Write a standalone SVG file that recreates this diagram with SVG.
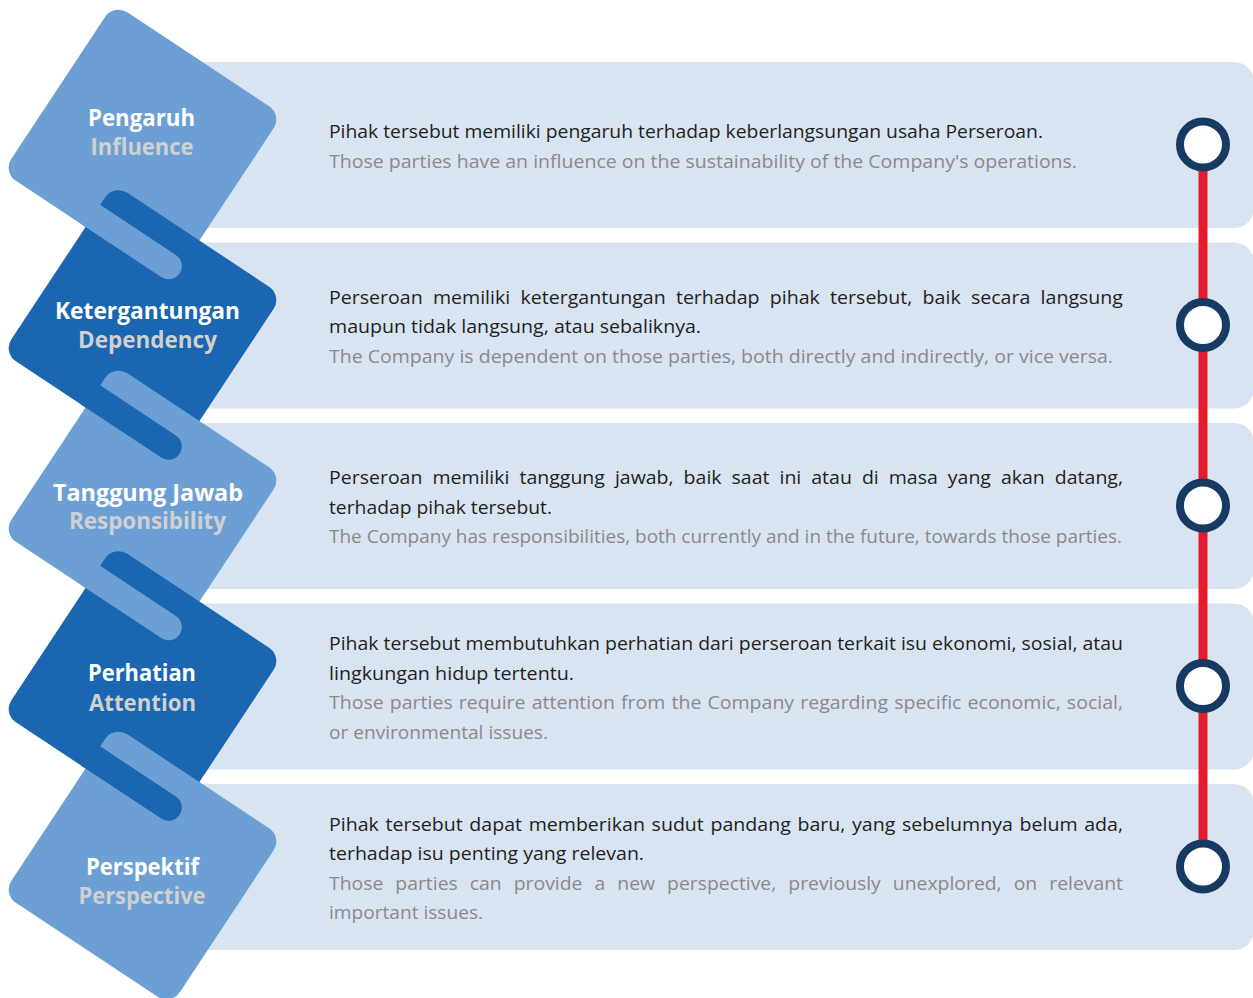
<svg xmlns="http://www.w3.org/2000/svg" width="1253" height="998" viewBox="0 0 1253 998">
<style>
.panel{fill:#d9e4f3}
.lt{fill:#6ca0d4}
.dk{fill:#1a66b0}
.t1{font-family:"Open Sans","Liberation Sans",sans-serif;font-size:19px;fill:#231f20}
.t2{font-family:"Open Sans","Liberation Sans",sans-serif;font-size:19px;fill:#8a8a8a}
.h1{font-family:"Open Sans","Liberation Sans",sans-serif;font-size:22.5px;font-weight:700;fill:#ffffff;text-anchor:middle}
.h2{font-family:"Open Sans","Liberation Sans",sans-serif;font-size:22.5px;font-weight:700;fill:#d0d0d0;text-anchor:middle}
.ring{fill:#ffffff;stroke:#173a63;stroke-width:8}
</style>
<rect width="1253" height="998" fill="#ffffff"/>
<g id="panels">
<g id="panel1"><rect class="panel" x="150" y="62" width="1104" height="166" rx="20"/>
<text class="t1" x="329" y="138" textLength="714" lengthAdjust="spacingAndGlyphs">Pihak tersebut memiliki pengaruh terhadap keberlangsungan usaha Perseroan.</text>
<text class="t2" x="329" y="167.5" textLength="748" lengthAdjust="spacingAndGlyphs">Those parties have an influence on the sustainability of the Company's operations.</text></g>
<g id="panel2"><rect class="panel" x="150" y="242.5" width="1104" height="166" rx="20"/>
<text class="t1" x="329" y="303.5" word-spacing="5" textLength="794" lengthAdjust="spacingAndGlyphs">Perseroan memiliki ketergantungan terhadap pihak tersebut, baik secara langsung</text>
<text class="t1" x="329" y="333" textLength="372" lengthAdjust="spacingAndGlyphs">maupun tidak langsung, atau sebaliknya.</text>
<text class="t2" x="329" y="362.5" textLength="784" lengthAdjust="spacingAndGlyphs">The Company is dependent on those parties, both directly and indirectly, or vice versa.</text></g>
<g id="panel3"><rect class="panel" x="150" y="423" width="1104" height="166" rx="20"/>
<text class="t1" x="329" y="484" word-spacing="4.8" textLength="794" lengthAdjust="spacingAndGlyphs">Perseroan memiliki tanggung jawab, baik saat ini atau di masa yang akan datang,</text>
<text class="t1" x="329" y="513.5" textLength="223" lengthAdjust="spacingAndGlyphs">terhadap pihak tersebut.</text>
<text class="t2" x="329" y="543" textLength="793" lengthAdjust="spacingAndGlyphs">The Company has responsibilities, both currently and in the future, towards those parties.</text></g>
<g id="panel4"><rect class="panel" x="150" y="603.5" width="1104" height="166" rx="20"/>
<text class="t1" x="329" y="650" textLength="794" lengthAdjust="spacingAndGlyphs">Pihak tersebut membutuhkan perhatian dari perseroan terkait isu ekonomi, sosial, atau</text>
<text class="t1" x="329" y="679.5" textLength="245" lengthAdjust="spacingAndGlyphs">lingkungan hidup tertentu.</text>
<text class="t2" x="329" y="709" word-spacing="1" textLength="794" lengthAdjust="spacingAndGlyphs">Those parties require attention from the Company regarding specific economic, social,</text>
<text class="t2" x="329" y="738.5" textLength="219" lengthAdjust="spacingAndGlyphs">or environmental issues.</text></g>
<g id="panel5"><rect class="panel" x="150" y="784" width="1104" height="166" rx="20"/>
<text class="t1" x="329" y="830.5" word-spacing="1.5" textLength="794" lengthAdjust="spacingAndGlyphs">Pihak tersebut dapat memberikan sudut pandang baru, yang sebelumnya belum ada,</text>
<text class="t1" x="329" y="860" textLength="315" lengthAdjust="spacingAndGlyphs">terhadap isu penting yang relevan.</text>
<text class="t2" x="329" y="889.5" word-spacing="6.9" textLength="794" lengthAdjust="spacingAndGlyphs">Those parties can provide a new perspective, previously unexplored, on relevant</text>
<text class="t2" x="329" y="919" textLength="154" lengthAdjust="spacingAndGlyphs">important issues.</text></g>
</g>
<g id="connectors">
<line x1="1203" y1="144.5" x2="1203" y2="866.5" stroke="#e31b2d" stroke-width="9"/>
</g>
<g id="markers">
<circle class="ring" cx="1203" cy="144.5" r="23"/>
<circle class="ring" cx="1203" cy="325" r="23"/>
<circle class="ring" cx="1203" cy="505.5" r="23"/>
<circle class="ring" cx="1203" cy="686" r="23"/>
<circle class="ring" cx="1203" cy="866.5" r="23"/>
</g>
<g id="diamond1">
<rect class="lt" x="-101" y="-101" width="202" height="202" rx="16" transform="translate(142.5,143.5) rotate(33.5)"/>
<text class="h1" x="141.5" y="126" textLength="107" lengthAdjust="spacingAndGlyphs">Pengaruh</text>
<text class="h2" x="142" y="154.5" textLength="103" lengthAdjust="spacingAndGlyphs">Influence</text>
</g>
<g id="diamond2">
<g transform="translate(142.5,324) rotate(33.5)">
<rect class="dk" x="-101" y="-101" width="202" height="202" rx="16"/>
<rect class="lt" x="-118" y="-76" width="121" height="26.5" rx="13.25"/>
</g>
<text class="h1" x="147.5" y="319" textLength="185" lengthAdjust="spacingAndGlyphs">Ketergantungan</text>
<text class="h2" x="147.5" y="348" textLength="139" lengthAdjust="spacingAndGlyphs">Dependency</text>
</g>
<g id="diamond3">
<g transform="translate(142.5,504.5) rotate(33.5)">
<rect class="lt" x="-101" y="-101" width="202" height="202" rx="16"/>
<rect class="dk" x="-118" y="-76" width="121" height="26.5" rx="13.25"/>
</g>
<text class="h1" x="148" y="500.5" textLength="190" lengthAdjust="spacingAndGlyphs">Tanggung Jawab</text>
<text class="h2" x="147.5" y="529" textLength="157" lengthAdjust="spacingAndGlyphs">Responsibility</text>
</g>
<g id="diamond4">
<g transform="translate(142.5,685) rotate(33.5)">
<rect class="dk" x="-101" y="-101" width="202" height="202" rx="16"/>
<rect class="lt" x="-118" y="-76" width="121" height="26.5" rx="13.25"/>
</g>
<text class="h1" x="142" y="680.5" textLength="108" lengthAdjust="spacingAndGlyphs">Perhatian</text>
<text class="h2" x="142.5" y="710.5" textLength="107" lengthAdjust="spacingAndGlyphs">Attention</text>
</g>
<g id="diamond5">
<g transform="translate(142.5,865.5) rotate(33.5)">
<rect class="lt" x="-101" y="-101" width="202" height="202" rx="16"/>
<rect class="dk" x="-118" y="-76" width="121" height="26.5" rx="13.25"/>
</g>
<text class="h1" x="142.5" y="874.5" textLength="113" lengthAdjust="spacingAndGlyphs">Perspektif</text>
<text class="h2" x="142" y="903.5" textLength="127" lengthAdjust="spacingAndGlyphs">Perspective</text>
</g>
</svg>
